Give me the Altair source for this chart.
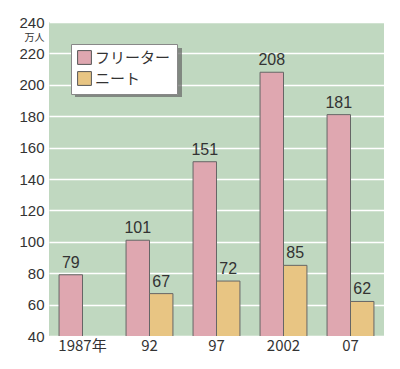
import altair as alt
import pandas as pd

years = ["1987年", "92", "97", "2002", "07"]
series = ["フリーター", "ニート"]
freeter = [79, 101, 151, 208, 181]
neet = [None, 67, 75, 85, 62]
freeter_labels = ["79", "101", "151", "208", "181"]
neet_labels = [None, "67", "72", "85", "62"]
colors = ["#dfa7b0", "#e8c583"]

rows = []
for i, y in enumerate(years):
    rows.append({"year": y, "series": series[0], "value": freeter[i], "label": freeter_labels[i]})
    if neet[i] is not None:
        rows.append({"year": y, "series": series[1], "value": neet[i], "label": neet_labels[i]})
df = pd.DataFrame(rows)

FONT = "Noto Sans CJK JP"
NUMFONT = "Liberation Sans"

x = alt.X("year:N", sort=years,
          scale=alt.Scale(paddingInner=0.3, paddingOuter=0.15),
          axis=alt.Axis(title=None, labelAngle=0, ticks=False, domain=False,
                        labelPadding=2, labelFontSize=15, labelColor="#333333", labelFont=FONT))
xo = alt.XOffset("series:N", sort=series, scale=alt.Scale(domain=series, paddingInner=0))
y = alt.Y("value:Q",
          scale=alt.Scale(domain=[40, 240], nice=False, zero=False),
          axis=alt.Axis(title="万人", titleAngle=0, titleAlign="right", titleBaseline="middle",
                        titleX=-5, titleY=15.5, titleFontSize=10, titleFontWeight="normal",
                        titleColor="#333333", titleFont=FONT,
                        values=list(range(40, 241, 20)), ticks=False, domain=False,
                        labelPadding=5, labelFontSize=15, labelColor="#333333", labelFont=NUMFONT,
                        grid=True, gridColor="white", gridWidth=1.5))

color = alt.Color("series:N", sort=series,
                  scale=alt.Scale(domain=series, range=colors),
                  legend=alt.Legend(title=None, orient="none", legendX=22, legendY=22,
                                    direction="vertical", symbolType="square", symbolSize=190,
                                    symbolStrokeColor="#555555", symbolStrokeWidth=1,
                                    labelFontSize=15, labelColor="#333333", labelFont=FONT,
                                    fillColor="white", strokeColor="#888888", padding=6,
                                    rowPadding=2, labelOffset=3))

shadow = alt.Chart(pd.DataFrame({"a": [0]})).mark_rect(color="#666666", opacity=0.7).encode(
    x=alt.value(26), x2=alt.value(133), y=alt.value(26), y2=alt.value(75))

bars = alt.Chart(df).mark_bar(stroke="#666666", strokeWidth=1, clip=True).encode(
    x=x, xOffset=xo, y=y, color=color)

texts = alt.Chart(df).mark_text(baseline="bottom", dy=-4, fontSize=16, color="#333333", font=NUMFONT).encode(
    x=x, xOffset=xo, y=y, text="label:N")

chart = alt.layer(bars, texts, shadow).properties(
    width=335, height=314,
    autosize=alt.AutoSizeParams(type="none"),
    padding={"left": 41, "top": 14, "right": 8, "bottom": 25},
).configure(background="white").configure_view(fill="#c0d8c0", stroke=None)

chart.save("out.html", embed_options={"renderer": "svg", "actions": False})
